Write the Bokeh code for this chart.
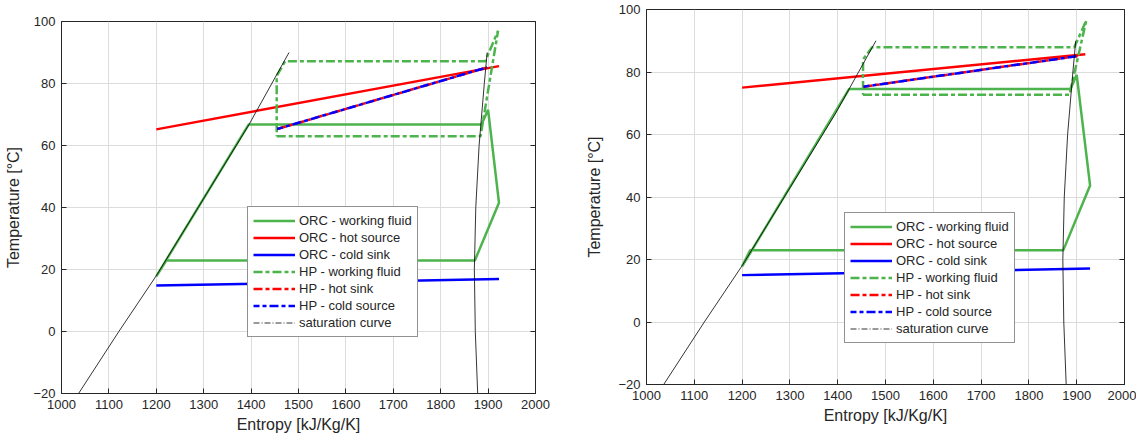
from bokeh.plotting import figure
from bokeh.models import LinearAxis, Legend, LegendItem, Range1d, FixedTicker
from bokeh.layouts import row
from bokeh.embed import file_html
from bokeh.resources import INLINE

# ---------------- data ----------------
x_ticks = [1000, 1100, 1200, 1300, 1400, 1500, 1600, 1700, 1800, 1900, 2000]
y_ticks = [-20, 0, 20, 40, 60, 80, 100]

legend_labels = ["ORC - working fluid", "ORC - hot source", "ORC - cold sink",
                 "HP - working fluid", "HP - hot sink", "HP - cold source",
                 "saturation curve"]

# saturation curve (same fluid in both panels)
sat_liq_s = [1036, 1121, 1200, 1395, 1480]
sat_liq_T = [-20, 0, 18, 66.6, 90]
sat_vap_s = [1878, 1873, 1871, 1874, 1881, 1892, 1898]
sat_vap_T = [-20, 0, 20, 40, 60, 80, 90]

# left panel
a_orc_wf_s = [1200, 1395, 1886, 1900, 1923, 1872, 1221, 1200]
a_orc_wf_T = [17.8, 66.8, 66.8, 71.5, 41.5, 22.9, 22.9, 17.8]
a_hot_src_s = [1200, 1923]
a_hot_src_T = [65.2, 85.6]
a_cold_snk_s = [1200, 1923]
a_cold_snk_T = [14.8, 16.9]
a_hp_wf_s = [1454, 1884, 1921, 1894, 1472, 1454, 1454]
a_hp_wf_T = [63.0, 63.0, 97.0, 87.2, 87.2, 82.5, 63.0]
a_hp_sink_s = [1455, 1898]
a_hp_sink_T = [65.3, 85.2]
a_hp_src_s = [1455, 1898]
a_hp_src_T = [65.3, 85.2]

# right panel
b_orc_wf_s = [1200, 1424, 1887, 1900, 1928, 1872, 1217, 1200]
b_orc_wf_T = [17.8, 74.6, 74.6, 79.1, 43.7, 23.0, 23.0, 17.8]
b_hot_src_s = [1200, 1918]
b_hot_src_T = [75.0, 85.7]
b_cold_snk_s = [1200, 1928]
b_cold_snk_T = [15.0, 17.1]
b_hp_wf_s = [1453, 1885, 1920, 1895, 1472, 1453, 1453]
b_hp_wf_T = [72.7, 72.7, 96.5, 87.9, 87.9, 84.0, 72.7]
b_hp_sink_s = [1454, 1902]
b_hp_sink_T = [75.3, 85.1]
b_hp_src_s = [1454, 1902]
b_hp_src_T = [75.3, 85.1]

# ---------------- style ----------------
FONT = "Liberation Sans"
AX = "#262626"
GREEN = "#4DB34D"
RED = "#FF0000"
BLUE = "#0000FF"
LW = 2.5
HP_DASH = "9 3 4 3"


def style_axis(ax, show_labels=True):
    ax.axis_line_color = AX
    ax.major_tick_line_color = AX
    ax.major_tick_in = 5
    ax.major_tick_out = 0
    ax.minor_tick_line_color = None
    ax.major_label_text_font = FONT
    ax.major_label_text_font_size = "13px"
    ax.major_label_text_color = AX if show_labels else None
    ax.axis_label_text_font = FONT
    ax.axis_label_text_font_size = "16px"
    ax.axis_label_text_font_style = "normal"
    ax.axis_label_text_color = AX


def panel(d, legend_loc, borders, frame, ylab_standoff, outer_margin):
    top, right, bottom, left = borders
    fw, fh = frame
    p = figure(frame_width=fw, frame_height=fh,
               x_range=Range1d(1000, 2000), y_range=Range1d(-20, 100),
               output_backend="svg", toolbar_location=None,
               min_border_top=top, min_border_right=right,
               min_border_bottom=bottom, min_border_left=left,
               margin=outer_margin,
               background_fill_color="white", border_fill_color="white")
    p.outline_line_color = AX
    p.xaxis.axis_label = "Entropy [kJ/Kg/K]"
    p.yaxis.axis_label = "Temperature [°C]"
    p.xaxis.ticker = FixedTicker(ticks=x_ticks)
    p.yaxis.ticker = FixedTicker(ticks=y_ticks)
    style_axis(p.xaxis[0])
    style_axis(p.yaxis[0])
    p.xaxis.major_label_standoff = 6
    p.xaxis.axis_label_standoff = 4
    p.yaxis.major_label_standoff = 6
    p.yaxis.axis_label_standoff = ylab_standoff
    rax = LinearAxis(ticker=FixedTicker(ticks=y_ticks))
    style_axis(rax, show_labels=False)
    rax.major_label_text_font_size = "0px"
    rax.major_label_standoff = 0
    p.add_layout(rax, "right")
    p.grid.grid_line_color = "#dcdcdc"
    p.grid.grid_line_width = 1
    p.xgrid.ticker = FixedTicker(ticks=x_ticks)
    p.ygrid.ticker = FixedTicker(ticks=y_ticks)

    r1 = p.line(d["orc_wf_s"], d["orc_wf_T"], line_color=GREEN, line_width=LW)
    r2 = p.line(d["hot_src_s"], d["hot_src_T"], line_color=RED, line_width=LW)
    r3 = p.line(d["cold_snk_s"], d["cold_snk_T"], line_color=BLUE, line_width=LW)
    r4 = p.line(d["hp_wf_s"], d["hp_wf_T"], line_color=GREEN, line_width=LW,
                line_dash=HP_DASH)
    r5 = p.line(d["hp_sink_s"], d["hp_sink_T"], line_color=RED, line_width=LW,
                line_dash=HP_DASH)
    r6 = p.line(d["hp_src_s"], d["hp_src_T"], line_color=BLUE, line_width=LW,
                line_dash=HP_DASH, line_dash_offset=3)
    # saturation curve: dense sampling in the original makes it look solid
    p.line(sat_liq_s, sat_liq_T, line_color="black", line_width=0.8)
    p.line(sat_vap_s, sat_vap_T, line_color="black", line_width=0.8)
    # legend sample in the dash-dot style of the reference legend
    r7 = p.line(sat_liq_s[:1], sat_liq_T[:1], line_color="black",
                line_width=0.8, line_dash="6 2 1 2")

    items = [LegendItem(label=lab, renderers=[r])
             for lab, r in zip(legend_labels, [r1, r2, r3, r4, r5, r6, r7])]
    leg = Legend(items=items, location=legend_loc)
    leg.label_text_font = FONT
    leg.label_text_font_size = "13px"
    leg.label_text_color = AX
    leg.label_height = 17
    leg.glyph_height = 17
    leg.glyph_width = 42
    leg.label_standoff = 4
    leg.spacing = 0
    leg.padding = 5
    leg.margin = 0
    leg.border_line_color = AX
    leg.border_line_width = 1
    leg.background_fill_color = "white"
    leg.background_fill_alpha = 1
    p.add_layout(leg)
    return p


left_data = dict(orc_wf_s=a_orc_wf_s, orc_wf_T=a_orc_wf_T,
                 hot_src_s=a_hot_src_s, hot_src_T=a_hot_src_T,
                 cold_snk_s=a_cold_snk_s, cold_snk_T=a_cold_snk_T,
                 hp_wf_s=a_hp_wf_s, hp_wf_T=a_hp_wf_T,
                 hp_sink_s=a_hp_sink_s, hp_sink_T=a_hp_sink_T,
                 hp_src_s=a_hp_src_s, hp_src_T=a_hp_src_T)
right_data = dict(orc_wf_s=b_orc_wf_s, orc_wf_T=b_orc_wf_T,
                  hot_src_s=b_hot_src_s, hot_src_T=b_hot_src_T,
                  cold_snk_s=b_cold_snk_s, cold_snk_T=b_cold_snk_T,
                  hp_wf_s=b_hp_wf_s, hp_wf_T=b_hp_wf_T,
                  hp_sink_s=b_hp_sink_s, hp_sink_T=b_hp_sink_T,
                  hp_src_s=b_hp_src_s, hp_src_T=b_hp_src_T)

p1 = panel(left_data, (186, 56), (9, 45, 46, 61), (474, 372), 8, (12, 0, 0, 0))
p2 = panel(right_data, (198, 41), (9, 12, 52, 66), (478, 375), 12, (0, 0, 0, 0))

layout = row(p1, p2)
open("out.html", "w").write(file_html(layout, INLINE))
